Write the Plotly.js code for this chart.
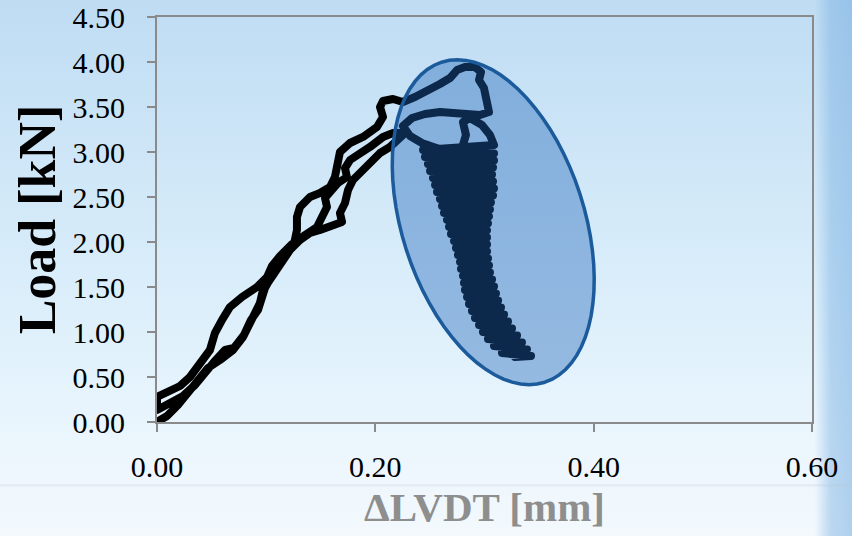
<!DOCTYPE html>
<html>
<head>
<meta charset="utf-8">
<script src="https://cdn.plot.ly/plotly-3.0.1.min.js"></script>
<style>
  html, body { margin: 0; padding: 0; }
  body {
    width: 852px; height: 536px; overflow: hidden;
    background:
      linear-gradient(to bottom, rgba(0,0,0,0) 484px, rgba(185,195,205,0.35) 485px, rgba(0,0,0,0) 487px),
      linear-gradient(to right, rgba(255,255,255,0) 95.6%, rgba(120,175,225,0.45) 97.5%, rgba(120,175,225,0.55) 100%),
      linear-gradient(to bottom, #bfdcf3 0%, #d1e8f8 35%, #e2f2fc 68%, #ecf6fd 84%, #f3f9fd 100%);
  }
  #chart { width: 852px; height: 536px; }
  .scatterlayer .js-line { stroke-linejoin: round !important; stroke-linecap: round !important; }
</style>
</head>
<body>
<div id="chart"></div>
<script>
// ---- axis ticks ----
const xTickVals = [0, 0.2, 0.4, 0.6];
const xTickText = ['0.00', '0.20', '0.40', '0.60'];
const yTickVals = [0, 0.5, 1.0, 1.5, 2.0, 2.5, 3.0, 3.5, 4.0, 4.5];
const yTickText = ['0.00', '0.50', '1.00', '1.50', '2.00', '2.50', '3.00', '3.50', '4.00', '4.50'];

// ---- data (ΔLVDT [mm], Load [kN]) ----
const load1X = [0, 0.0092, 0.0192, 0.0284, 0.0376, 0.0467, 0.0577, 0.0696, 0.0788, 0.0852, 0.0916, 0.0943, 0.0971, 0.1035, 0.1127, 0.1218, 0.1310, 0.1401, 0.1493, 0.1585, 0.1695, 0.1676, 0.1722, 0.1750, 0.1795, 0.1887, 0.1969, 0.2043, 0.2134, 0.2198, 0.2272];
const load1Y = [0, 0.067, 0.189, 0.322, 0.467, 0.600, 0.689, 0.800, 0.944, 1.100, 1.211, 1.322, 1.467, 1.578, 1.744, 1.911, 2.022, 2.100, 2.133, 2.167, 2.222, 2.322, 2.433, 2.578, 2.689, 2.800, 2.911, 2.989, 3.056, 3.133, 3.211];

const unloadX = [0.2162, 0.2070, 0.1951, 0.1860, 0.1768, 0.1722, 0.1740, 0.1658, 0.1612, 0.1539, 0.1557, 0.1521, 0.1466, 0.1356, 0.1237, 0.1127, 0.1053, 0.1008, 0.0916, 0.0779, 0.0669, 0.0595, 0.0531, 0.0485, 0.0394, 0.0302, 0.0211, 0.0119, 0, 0];
const unloadY = [3.211, 3.167, 3.056, 2.989, 2.911, 2.822, 2.722, 2.656, 2.578, 2.489, 2.389, 2.278, 2.167, 2.078, 1.978, 1.844, 1.733, 1.611, 1.500, 1.389, 1.278, 1.133, 0.989, 0.800, 0.633, 0.500, 0.400, 0.344, 0.278, 0.133];

const load2X = [0.0119, 0.0238, 0.0348, 0.0440, 0.0522, 0.0623, 0.0705, 0.0797, 0.0861, 0.0925, 0.0952, 0.0989, 0.1090, 0.1182, 0.1255, 0.1282, 0.1282, 0.1310, 0.1401, 0.1493, 0.1585, 0.1630, 0.1649, 0.1676, 0.1768, 0.1887, 0.2015, 0.2070, 0.2043, 0.2070, 0.2162];
const load2Y = [0.211, 0.289, 0.411, 0.556, 0.667, 0.800, 0.822, 0.967, 1.133, 1.244, 1.356, 1.489, 1.711, 1.867, 1.978, 2.133, 2.278, 2.389, 2.500, 2.544, 2.611, 2.722, 2.878, 3.000, 3.100, 3.167, 3.278, 3.389, 3.500, 3.567, 3.589];

const peakX = [0.2253, 0.2363, 0.2482, 0.2592, 0.2684, 0.2748, 0.2821, 0.2913, 0.2968, 0.2950, 0.2995, 0.3023, 0.3041, 0.2959, 0.2849, 0.2730, 0.2592, 0.2455, 0.2336, 0.2253, 0.2318, 0.2427, 0.2556, 0.2666, 0.2794, 0.2830, 0.2803, 0.2867, 0.2977, 0.3050, 0.3087];
const peakY = [3.556, 3.611, 3.678, 3.756, 3.822, 3.911, 3.944, 3.944, 3.889, 3.800, 3.711, 3.578, 3.444, 3.411, 3.422, 3.433, 3.444, 3.422, 3.378, 3.289, 3.178, 3.100, 3.044, 3.000, 3.044, 3.189, 3.333, 3.378, 3.300, 3.189, 3.078];

const softX = [0.2437, 0.3087, 0.2455, 0.3087, 0.2482, 0.3078, 0.2501, 0.3069, 0.2528, 0.3078, 0.2547, 0.3087, 0.2565, 0.3078, 0.2592, 0.3059, 0.2611, 0.3050, 0.2629, 0.3041, 0.2656, 0.3032, 0.2675, 0.3023, 0.2693, 0.3023, 0.2721, 0.3023, 0.2739, 0.3023, 0.2757, 0.3032, 0.2776, 0.3041, 0.2785, 0.3050, 0.2803, 0.3069, 0.2812, 0.3087, 0.2821, 0.3105, 0.2840, 0.3124, 0.2858, 0.3151, 0.2885, 0.3179, 0.2913, 0.3215, 0.2950, 0.3252, 0.2986, 0.3298, 0.3032, 0.3343, 0.3087, 0.3389, 0.3160, 0.3426, 0.3279];
const softY = [3.022, 2.983, 2.944, 2.906, 2.867, 2.828, 2.789, 2.750, 2.711, 2.672, 2.633, 2.594, 2.556, 2.517, 2.478, 2.439, 2.400, 2.361, 2.322, 2.283, 2.244, 2.206, 2.167, 2.128, 2.089, 2.050, 2.011, 1.972, 1.933, 1.894, 1.856, 1.817, 1.778, 1.739, 1.700, 1.661, 1.622, 1.583, 1.544, 1.506, 1.467, 1.428, 1.389, 1.350, 1.311, 1.272, 1.233, 1.194, 1.156, 1.117, 1.078, 1.039, 1.000, 0.961, 0.922, 0.883, 0.844, 0.806, 0.767, 0.733, 0.722];

const curveX = [].concat(load1X, unloadX, load2X, peakX, softX);
const curveY = [].concat(load1Y, unloadY, load2Y, peakY, softY);

// ---- highlight ellipse (data units) ----
const ellipseCenter = [0.308, 2.22];
const ellipseMajor = [0.0473, -1.778];
const ellipseMinor = [0.0795, 0.311];
let ePath = '';
for (let i = 0; i <= 72; i++) {
  const t = i / 72 * 2 * Math.PI;
  const ex = ellipseCenter[0] + ellipseMajor[0] * Math.cos(t) + ellipseMinor[0] * Math.sin(t);
  const ey = ellipseCenter[1] + ellipseMajor[1] * Math.cos(t) + ellipseMinor[1] * Math.sin(t);
  ePath += (i === 0 ? 'M' : 'L') + ex.toFixed(5) + ',' + ey.toFixed(5);
}
ePath += 'Z';

const serif = 'Liberation Serif, Times New Roman, serif';
const axisGray = '#8a8a8a';

const trace = {
  x: curveX, y: curveY, type: 'scatter', mode: 'lines',
  line: { color: '#000000', width: 8 },
  hoverinfo: 'skip', showlegend: false
};

const layout = {
  width: 852, height: 536,
  margin: { l: 157, r: 40, t: 17, b: 114 },
  paper_bgcolor: 'rgba(0,0,0,0)',
  plot_bgcolor: 'rgba(0,0,0,0)',
  showlegend: false,
  xaxis: {
    range: [0, 0.6], tickvals: xTickVals, ticktext: xTickText,
    showgrid: false, zeroline: false,
    showline: true, linecolor: axisGray, linewidth: 2, mirror: true,
    ticks: 'outside', ticklen: 8, tickwidth: 2, tickcolor: axisGray,
    ticklabelstandoff: 9,
    tickfont: { family: serif, size: 30, color: '#000000' },
    title: { text: '<b>ΔLVDT [mm]</b>', font: { family: serif, size: 41, color: '#8e8e8e' }, standoff: 10 }
  },
  yaxis: {
    range: [0, 4.5], tickvals: yTickVals, ticktext: yTickText,
    showgrid: false, zeroline: false,
    showline: true, linecolor: axisGray, linewidth: 2, mirror: true,
    ticks: 'outside', ticklen: 8, tickwidth: 2, tickcolor: axisGray,
    ticklabelstandoff: 16,
    tickfont: { family: serif, size: 30, color: '#000000' },
    title: { text: '<b>Load [kN]</b>', font: { family: serif, size: 52, color: '#000000' }, standoff: 0 }
  },
  shapes: [{
    type: 'path', xref: 'x', yref: 'y', path: ePath, layer: 'above',
    fillcolor: 'rgba(29,100,186,0.4)',
    line: { color: '#1b5b9c', width: 3.5 }
  }]
};

Plotly.newPlot('chart', [trace], layout, { staticPlot: true, displayModeBar: false });
</script>
</body>
</html>
